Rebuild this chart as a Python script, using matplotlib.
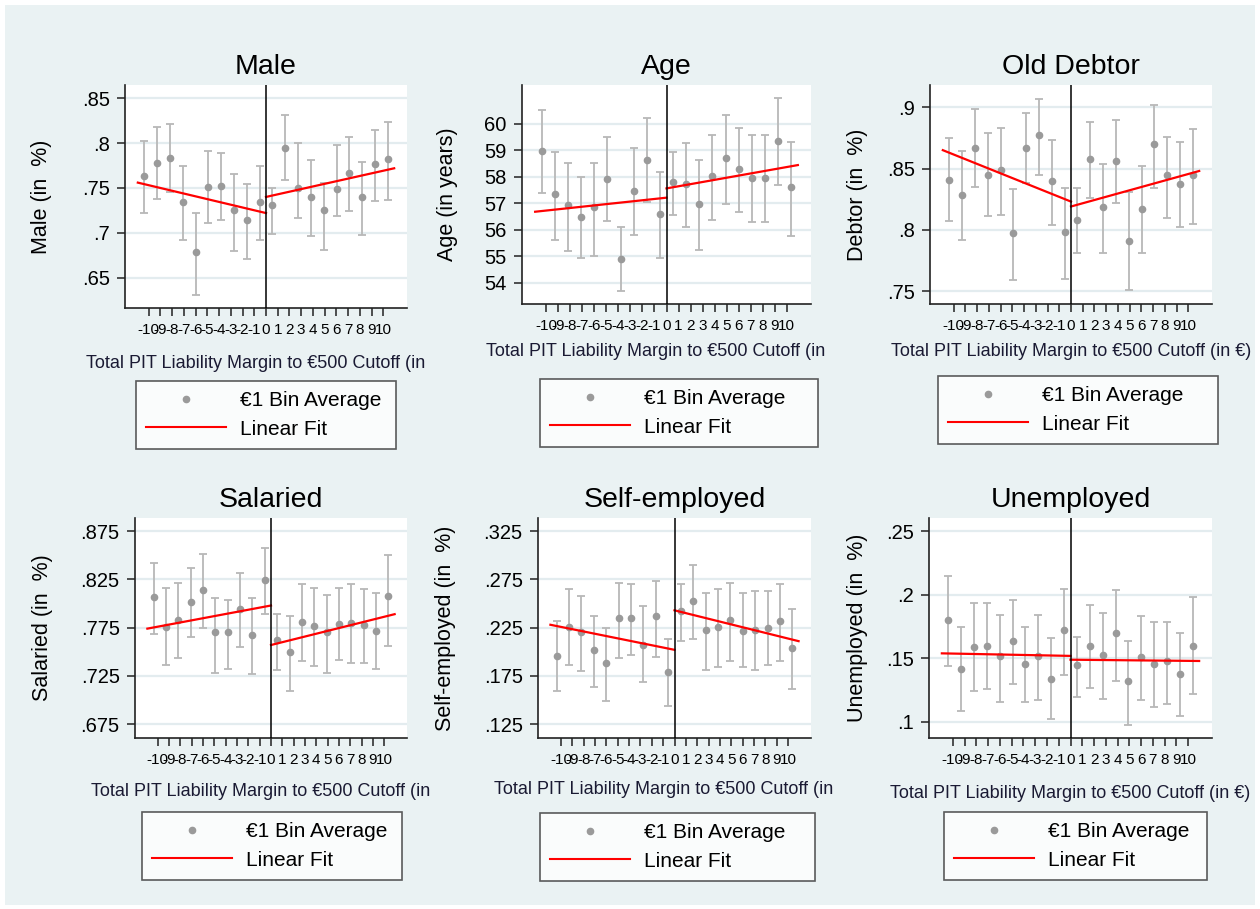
import matplotlib
matplotlib.use('Agg')
import matplotlib.pyplot as plt
from matplotlib.lines import Line2D
from matplotlib.patches import Rectangle
from matplotlib.transforms import Bbox, TransformedBbox

plt.rcParams['font.family'] = ['Liberation Sans', 'DejaVu Sans']
plt.rcParams['axes.unicode_minus'] = False

# bin centres (EUR 1 bins either side of the cutoff)
bins = [-9.5, -8.5, -7.5, -6.5, -5.5, -4.5, -3.5, -2.5, -1.5, -0.5,
        0.5, 1.5, 2.5, 3.5, 4.5, 5.5, 6.5, 7.5, 8.5, 9.5]
tick_vals = list(range(-10, 11))

titles = ['Male', 'Age', 'Old Debtor', 'Salaried', 'Self-employed', 'Unemployed']
ylabels = ['Male (in  %)', 'Age (in years)', 'Debtor (in  %)',
           'Salaried (in  %)', 'Self-employed (in  %)', 'Unemployed (in  %)']

# Male
male_mean = [0.763, 0.778, 0.784, 0.734, 0.678, 0.751, 0.752, 0.725, 0.714, 0.734,
             0.731, 0.795, 0.750, 0.740, 0.725, 0.749, 0.767, 0.740, 0.777, 0.782]
male_lo = [0.722, 0.738, 0.745, 0.692, 0.631, 0.711, 0.714, 0.680, 0.671, 0.692,
           0.699, 0.759, 0.717, 0.696, 0.681, 0.719, 0.724, 0.698, 0.735, 0.737]
male_hi = [0.802, 0.818, 0.822, 0.774, 0.722, 0.791, 0.789, 0.766, 0.755, 0.774,
           0.750, 0.831, 0.800, 0.781, 0.756, 0.798, 0.807, 0.779, 0.815, 0.824]
male_fit = [(0.756, 0.722), (0.740, 0.772)]

# Age
age_mean = [58.97, 57.35, 56.92, 56.49, 56.84, 57.90, 54.91, 57.46, 58.65, 56.58,
            57.80, 57.71, 56.97, 58.04, 58.72, 58.28, 57.97, 57.97, 59.35, 57.60]
age_lo = [57.37, 55.61, 55.19, 54.92, 55.00, 56.33, 53.69, 55.80, 57.06, 54.92,
          56.55, 56.11, 55.23, 56.36, 56.99, 56.68, 56.30, 56.30, 57.69, 55.76]
age_hi = [60.52, 58.94, 58.50, 58.00, 58.50, 59.51, 56.11, 59.07, 60.20, 58.19,
          58.94, 59.26, 58.63, 59.57, 60.33, 59.82, 59.57, 59.57, 60.96, 59.32]
age_fit = [(56.68, 57.21), (57.56, 58.44)]

# Old debtor
debt_mean = [0.841, 0.828, 0.867, 0.845, 0.849, 0.797, 0.867, 0.877, 0.840, 0.798,
             0.808, 0.858, 0.819, 0.856, 0.791, 0.817, 0.870, 0.845, 0.837, 0.845]
debt_lo = [0.807, 0.792, 0.835, 0.811, 0.812, 0.759, 0.838, 0.845, 0.804, 0.760,
           0.781, 0.826, 0.781, 0.822, 0.751, 0.781, 0.834, 0.810, 0.802, 0.805]
debt_hi = [0.875, 0.864, 0.899, 0.879, 0.883, 0.833, 0.895, 0.907, 0.873, 0.834,
           0.834, 0.888, 0.854, 0.890, 0.831, 0.852, 0.902, 0.876, 0.872, 0.882]
debt_fit = [(0.865, 0.823), (0.819, 0.848)]

# Salaried
sal_mean = [0.807, 0.776, 0.783, 0.802, 0.814, 0.770, 0.770, 0.794, 0.767, 0.824,
            0.762, 0.750, 0.781, 0.777, 0.771, 0.779, 0.780, 0.778, 0.772, 0.808]
sal_lo = [0.768, 0.736, 0.744, 0.765, 0.775, 0.728, 0.732, 0.755, 0.727, 0.789,
          0.731, 0.709, 0.740, 0.735, 0.728, 0.741, 0.738, 0.738, 0.732, 0.756]
sal_hi = [0.842, 0.816, 0.821, 0.837, 0.851, 0.806, 0.804, 0.832, 0.806, 0.858,
          0.789, 0.787, 0.820, 0.816, 0.809, 0.816, 0.820, 0.815, 0.811, 0.850]
sal_fit = [(0.774, 0.798), (0.757, 0.789)]

# Self-employed
self_mean = [0.196, 0.226, 0.220, 0.202, 0.188, 0.235, 0.235, 0.207, 0.237, 0.179,
             0.242, 0.253, 0.223, 0.226, 0.233, 0.222, 0.223, 0.225, 0.232, 0.204]
self_lo = [0.159, 0.186, 0.180, 0.163, 0.149, 0.194, 0.197, 0.169, 0.195, 0.144,
           0.211, 0.213, 0.181, 0.184, 0.190, 0.184, 0.181, 0.186, 0.190, 0.161]
self_hi = [0.232, 0.265, 0.258, 0.237, 0.225, 0.271, 0.270, 0.247, 0.273, 0.213,
           0.270, 0.290, 0.261, 0.265, 0.271, 0.261, 0.263, 0.263, 0.270, 0.244]
self_fit = [(0.228, 0.202), (0.243, 0.211)]

# Unemployed
unemp_mean = [0.180, 0.142, 0.159, 0.160, 0.152, 0.164, 0.146, 0.152, 0.134, 0.172,
              0.145, 0.160, 0.153, 0.170, 0.132, 0.151, 0.146, 0.148, 0.138, 0.160]
unemp_lo = [0.144, 0.109, 0.124, 0.126, 0.116, 0.130, 0.116, 0.117, 0.102, 0.137,
            0.120, 0.127, 0.118, 0.132, 0.098, 0.117, 0.112, 0.114, 0.105, 0.122]
unemp_hi = [0.215, 0.175, 0.194, 0.194, 0.184, 0.196, 0.175, 0.184, 0.166, 0.205,
            0.167, 0.192, 0.186, 0.204, 0.164, 0.183, 0.179, 0.179, 0.170, 0.198]
unemp_fit = [(0.154, 0.152), (0.149, 0.148)]

yticks = [
    ([0.65, 0.70, 0.75, 0.80, 0.85], ['.65', '.7', '.75', '.8', '.85']),
    ([54, 55, 56, 57, 58, 59, 60], ['54', '55', '56', '57', '58', '59', '60']),
    ([0.75, 0.80, 0.85, 0.90], ['.75', '.8', '.85', '.9']),
    ([0.675, 0.725, 0.775, 0.825, 0.875], ['.675', '.725', '.775', '.825', '.875']),
    ([0.125, 0.175, 0.225, 0.275, 0.325], ['.125', '.175', '.225', '.275', '.325']),
    ([0.10, 0.15, 0.20, 0.25], ['.1', '.15', '.2', '.25']),
]
ylims = [(0.616, 0.865), (53.2, 61.46), (0.7394, 0.9182),
         (0.6605, 0.8888), (0.1105, 0.3388), (0.0874, 0.2605)]

series = [
    (male_mean, male_lo, male_hi, male_fit),
    (age_mean, age_lo, age_hi, age_fit),
    (debt_mean, debt_lo, debt_hi, debt_fit),
    (sal_mean, sal_lo, sal_hi, sal_fit),
    (self_mean, self_lo, self_hi, self_fit),
    (unemp_mean, unemp_lo, unemp_hi, unemp_fit),
]

# layout in pixels: plot box (l, t, r, b), legend box (l, t, r), x-title y, clip right
W, H = 1260, 909
plot_boxes = [(125, 85, 407, 308), (522, 85, 811, 304), (930, 85, 1212, 304),
              (135, 518, 407, 738), (538, 518, 811, 738), (929, 518, 1212, 738)]
legend_boxes = [(136, 381, 396), (540, 379, 818), (938, 376, 1218),
                (142, 812, 402), (540, 813, 815), (944, 812, 1207)]
xtitle_y = [363, 352, 352, 792, 789, 793]
clip_right = [425, 828, 1256, 430, 838, 1254]
ylabel_x = [42, 447, 857, 43, 445, 858]

BG = '#EAF2F3'
GRAY = '#9a9a9a'
BAR = '#b8b8b8'

fig = plt.figure(figsize=(W / 100, H / 100), dpi=100)
fig.patch.set_facecolor('white')
fig.add_artist(Rectangle((5 / W, 4 / H), 1250 / W, 900 / H, transform=fig.transFigure,
                         facecolor=BG, edgecolor='none', zorder=-10))

for i in range(6):
    l, t, r, b = plot_boxes[i]
    ax = fig.add_axes([l / W, 1 - b / H, (r - l) / W, (b - t) / H])
    ax.set_facecolor('white')
    mean, lo, hi, fit = series[i]
    yerr = [[m - a for m, a in zip(mean, lo)], [c - m for m, c in zip(mean, hi)]]
    ax.errorbar(bins, mean, yerr=yerr, fmt='o', color=GRAY, ms=4.5,
                ecolor=BAR, elinewidth=1.3, capsize=3, capthick=1.3, zorder=3)
    ax.plot([-10, 0], fit[0], color='red', lw=1.6, zorder=4)
    ax.plot([0, 10], fit[1], color='red', lw=1.6, zorder=4)
    ax.axvline(0, color='black', lw=1.1, zorder=5)

    ax.set_xlim(-11, 11)
    ax.set_ylim(*ylims[i])
    ax.set_xticks([k * 0.915 for k in tick_vals])
    ax.set_xticklabels([str(k) for k in tick_vals], fontsize=11)
    ax.set_yticks(yticks[i][0])
    ax.set_yticklabels(yticks[i][1], fontsize=14.5)
    ax.yaxis.grid(True, color='#e3ecef', lw=1.6, zorder=0)
    ax.set_axisbelow(True)
    for s in ['top', 'right']:
        ax.spines[s].set_visible(False)
    for s in ['left', 'bottom']:
        ax.spines[s].set_color('#222222')
        ax.spines[s].set_linewidth(1.2)
    ax.tick_params(axis='both', length=6, width=1.1, color='#222222', pad=5)

    ax.set_title(titles[i], fontsize=20.5, pad=8)

    fig.text(ylabel_x[i] / W, 1 - (t + b) / 2 / H, ylabels[i], rotation=90,
             ha='center', va='center', fontsize=15.5)

    xt = fig.text((l + r) / 2 / W, 1 - xtitle_y[i] / H,
                  'Total PIT Liability Margin to €500 Cutoff (in €)',
                  ha='center', va='center', fontsize=13, color='#1a1a33')
    clip = Bbox([[0, 0], [clip_right[i] / W, 1]])
    xt.set_clip_box(TransformedBbox(clip, fig.transFigure))
    xt.set_clip_on(True)

    ll, lt, lr = legend_boxes[i]
    handles = [Line2D([], [], marker='o', ls='none', color=GRAY, ms=4.5),
               Line2D([], [], color='red', lw=1.5)]
    leg = fig.legend(handles, ['€1 Bin Average', 'Linear Fit'], loc='upper left',
                     bbox_to_anchor=(ll / W, 1 - lt / H, (lr - ll) / W, 0.0001),
                     mode='expand', borderaxespad=0, fontsize=15, frameon=True,
                     fancybox=False, handlelength=3.8, handletextpad=0.7,
                     labelspacing=0.45, borderpad=0.5)
    leg.get_frame().set_edgecolor('#333333')
    leg.get_frame().set_linewidth(1.2)

fig.savefig('out.png', dpi=100, facecolor=fig.get_facecolor())
